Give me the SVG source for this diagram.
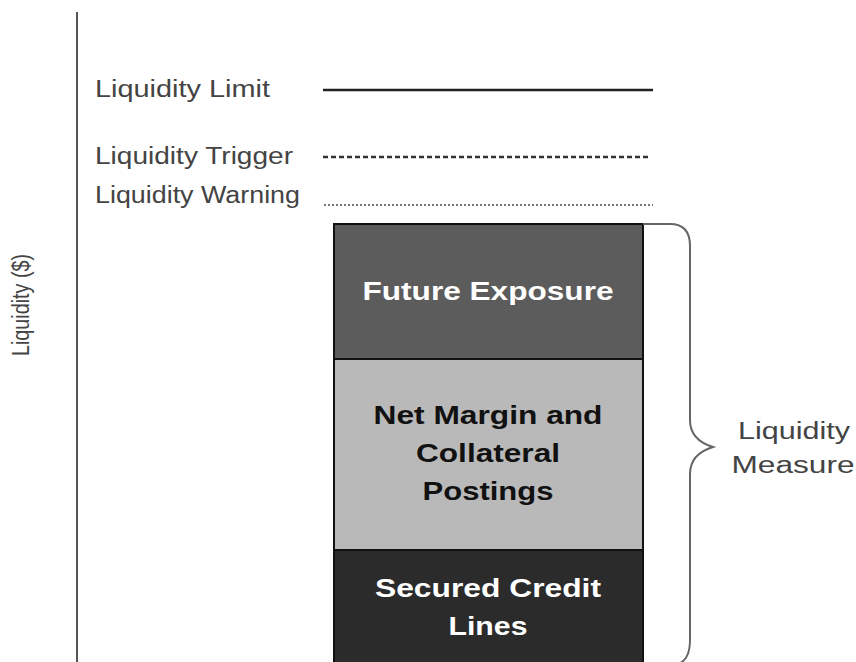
<svg xmlns="http://www.w3.org/2000/svg" width="856" height="662" viewBox="0 0 856 662">
<style>
.lbl{font-family:"Liberation Sans",Arial,sans-serif;font-size:23px;fill:#444}
.box{font-family:"Liberation Sans",Arial,sans-serif;font-size:26px;font-weight:bold;text-anchor:middle}
.w{fill:#fff}
.k{fill:#111}
</style>
<rect width="856" height="662" fill="#fff"/>
<g id="axis">
<line x1="77" y1="12" x2="77" y2="662" stroke="#555" stroke-width="2"/>
<text class="lbl" transform="translate(29,305) rotate(-90)" text-anchor="middle" textLength="102" lengthAdjust="spacingAndGlyphs">Liquidity ($)</text>
</g>
<g id="limit">
<text class="lbl" x="95" y="97" textLength="175" lengthAdjust="spacingAndGlyphs">Liquidity Limit</text>
<line x1="323" y1="90" x2="653" y2="90" stroke="#222" stroke-width="2.5"/>
</g>
<g id="trigger">
<text class="lbl" x="95" y="164" textLength="198" lengthAdjust="spacingAndGlyphs">Liquidity Trigger</text>
<line x1="323" y1="157" x2="649" y2="157" stroke="#333" stroke-width="2.5" stroke-dasharray="5,3"/>
</g>
<g id="warning">
<text class="lbl" x="95" y="203" textLength="205" lengthAdjust="spacingAndGlyphs">Liquidity Warning</text>
<line x1="324" y1="205" x2="653" y2="205" stroke="#777" stroke-width="2" stroke-dasharray="2,2"/>
</g>
<g id="future-exposure">
<rect x="334" y="224" width="309" height="135" fill="#5c5c5c" stroke="#111" stroke-width="2"/>
<text class="box w" x="488" y="300" textLength="251" lengthAdjust="spacingAndGlyphs">Future Exposure</text>
</g>
<g id="net-margin">
<rect x="334" y="359" width="309" height="191" fill="#b9b9b9" stroke="#111" stroke-width="2"/>
<text class="box k" x="488" y="424" textLength="229" lengthAdjust="spacingAndGlyphs">Net Margin and</text>
<text class="box k" x="488" y="462" textLength="144" lengthAdjust="spacingAndGlyphs">Collateral</text>
<text class="box k" x="488" y="500" textLength="131" lengthAdjust="spacingAndGlyphs">Postings</text>
</g>
<g id="secured-credit">
<rect x="334" y="550" width="309" height="114" fill="#2b2b2b" stroke="#111" stroke-width="2"/>
<text class="box w" x="488" y="597" textLength="226" lengthAdjust="spacingAndGlyphs">Secured Credit</text>
<text class="box w" x="488" y="635" textLength="79" lengthAdjust="spacingAndGlyphs">Lines</text>
</g>
<g id="brace">
<path d="M643,224 L670,224 Q690,224 690,246 L690,420 Q690,440 713,447 Q690,454 690,474 L690,640 Q690,660 678,664" fill="none" stroke="#666" stroke-width="2"/>
<text class="lbl" x="794" y="439" text-anchor="middle" textLength="112" lengthAdjust="spacingAndGlyphs">Liquidity</text>
<text class="lbl" x="793" y="473" text-anchor="middle" textLength="123" lengthAdjust="spacingAndGlyphs">Measure</text>
</g>
</svg>
